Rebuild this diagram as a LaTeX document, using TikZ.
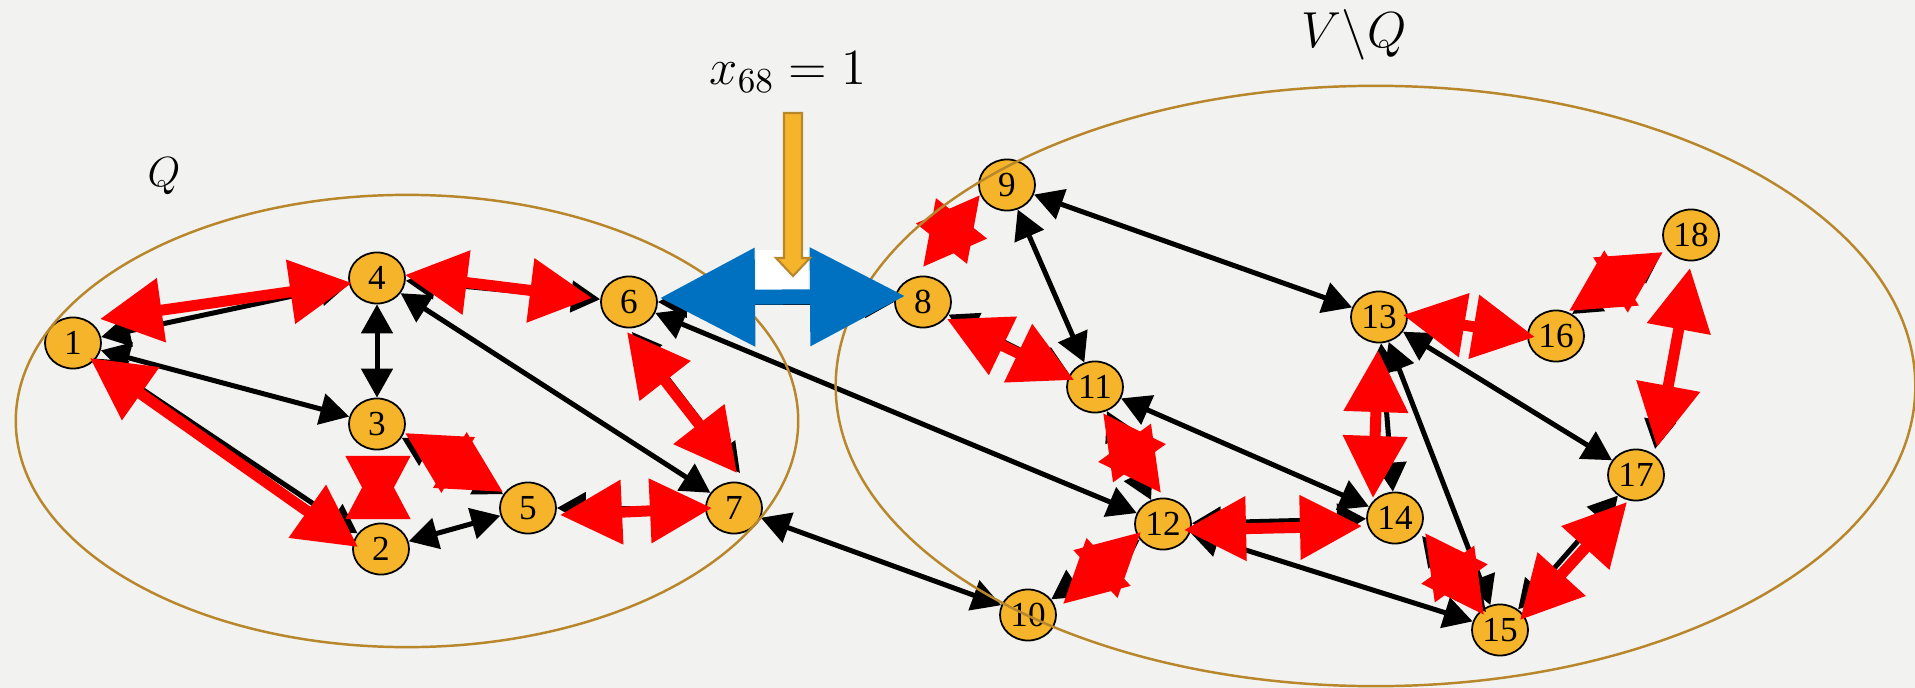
\documentclass[tikz,border=0pt]{standalone}
\usepackage{fontspec}
\setmainfont{Liberation Serif}
\usetikzlibrary{arrows.meta,shapes.geometric}
\definecolor{bgc}{HTML}{F2F2F0}
\definecolor{nodefill}{HTML}{F6B42A}
\definecolor{ringc}{HTML}{B8862B}
\definecolor{redc}{HTML}{FF0000}
\definecolor{bluec}{HTML}{0070C0}
\begin{document}
\begin{tikzpicture}[x=0.01cm,y=-0.01cm,
  vnode/.style={ellipse,draw=black,line width=0.5pt,fill=nodefill,minimum width=0.56cm,minimum height=0.51cm,inner sep=0pt,font=\fontsize{10}{12}\selectfont},
  blk/.style={draw=black,line width=0.05cm,{Triangle[length=0.29cm,width=0.31cm]}-{Triangle[length=0.29cm,width=0.31cm]}},
  redarr/.style={draw=redc,line width=0.11cm,{Triangle[length=0.62cm,width=0.62cm]}-{Triangle[length=0.62cm,width=0.62cm]}},
  bluearr/.style={draw=bluec,line width=0.15cm,{Triangle[length=0.95cm,width=0.95cm]}-{Triangle[length=0.95cm,width=0.95cm]}},
  ring/.style={draw=ringc,line width=0.7pt},
  pointer/.style={draw=ringc,fill=nodefill,line width=0.6pt,line join=miter},
  lbl/.style={inner sep=0pt,anchor=base}
]
\fill[bgc] (0,0) rectangle (1915,688);
\useasboundingbox (0,0) rectangle (1915,688);

% nodes
\node[vnode] (n1) at (73,343) {1};
\node[vnode] (n2) at (381,549) {2};
\node[vnode] (n3) at (377,424) {3};
\node[vnode] (n4) at (377,278) {4};
\node[vnode] (n5) at (528,508) {5};
\node[vnode] (n6) at (629,302) {6};
\node[vnode] (n7) at (734,508) {7};
\node[vnode] (n8) at (923,302) {8};
\node[vnode] (n9) at (1007,185) {9};
\node[vnode] (n10) at (1028,615) {10};
\node[vnode] (n11) at (1095,387) {11};
\node[vnode] (n12) at (1163,524) {12};
\node[vnode] (n13) at (1379,317) {13};
\node[vnode] (n14) at (1395,518) {14};
\node[vnode] (n15) at (1500,630) {15};
\node[vnode] (n16) at (1556,336) {16};
\node[vnode] (n17) at (1636,475) {17};
\node[vnode] (n18) at (1691,235) {18};

% black edges
\draw[blk] (n1) -- (n4);
\draw[blk] (n1) -- (n3);
\draw[blk] (n1) -- (n2);
\draw[blk] (n4) -- (n3);
\draw[blk] (n4) -- (n6);
\draw[blk] (n4) -- (n7);
\draw[blk] (n3) -- (n5);
\draw[blk] (n2) -- (n5);
\draw[blk] (n5) -- (n7);
\draw[blk] ([shift={(3,30)}]n6.center) -- ([shift={(6,-35)}]n7.center);
\draw[blk] (n6) -- (n8);
\draw[blk] (n6) -- (n12);
\draw[blk] (n7) -- (n10);
\draw[blk] (n8) -- (n11);
\draw[blk] (n9) -- (n11);
\draw[blk] (n9) -- (n13);
\draw[blk] (n11) -- (n12);
\draw[blk] (n11) -- (n14);
\draw[blk] (n10) -- (n12);
\draw[blk] (n12) -- (n14);
\draw[blk] (n12) -- (n15);
\draw[blk] (n13) -- (n14);
\draw[blk] (n13) -- (n15);
\draw[blk] (n13) -- (n17);
\draw[blk] ([shift={(27,18)}]n14.center) -- ([shift={(-14,-18)}]n15.center);
\draw[blk] ([shift={(16,-22)}]n16.center) -- ([shift={(-30,19)}]n18.center);
\draw[blk] ([shift={(-5,40)}]n18.center) -- ([shift={(19,-26)}]n17.center);
\draw[blk] (n15) -- (n17);

% red edges
\draw[redarr] ([shift={(27,-24)}]n1.center) -- ([shift={(-25,5)}]n4.center);
\draw[redarr] ([shift={(17,15)}]n1.center) -- ([shift={(-23,-2)}]n2.center);
\draw[redarr] ([shift={(1,33)}]n3.center) -- ([shift={(-3,-31)}]n2.center);
\draw[redarr] ([shift={(28,9)}]n3.center) -- ([shift={(-25,-16)}]n5.center);
\draw[redarr] ([shift={(28,-3)}]n4.center) -- ([shift={(-37,-4)}]n6.center);
\draw[redarr] ([shift={(32,7)}]n5.center) -- ([shift={(-22,0)}]n7.center);
\draw[redarr] ([shift={(-2,30)}]n6.center) -- ([shift={(3,-35)}]n7.center);
\draw[redarr] ([shift={(0,-35)}]n8.center) -- ([shift={(-27,10)}]n9.center);
\draw[redarr] ([shift={(24,17)}]n8.center) -- ([shift={(-21,-7)}]n11.center);
\draw[redarr] ([shift={(8,26)}]n11.center) -- ([shift={(-2,-31)}]n12.center);
\draw[redarr] ([shift={(35,-11)}]n10.center) -- ([shift={(-22,8)}]n12.center);
\draw[redarr] ([shift={(21,6)}]n12.center) -- ([shift={(-33,8)}]n14.center);
\draw[redarr] ([shift={(24,-2)}]n13.center) -- ([shift={(-21,1)}]n16.center);
\draw[redarr] ([shift={(-1,33)}]n13.center) -- ([shift={(-22,-20)}]n14.center);
\draw[redarr] ([shift={(30,15)}]n14.center) -- ([shift={(-16,-15)}]n15.center);
\draw[redarr] ([shift={(13,-25)}]n16.center) -- ([shift={(-28,17)}]n18.center);
\draw[redarr] ([shift={(-1,33)}]n18.center) -- ([shift={(21,-28)}]n17.center);
\draw[redarr] ([shift={(20,-10)}]n15.center) -- ([shift={(-9,27)}]n17.center);

% white patch between the blue heads, above the shaft
\fill[white] (756,250) rectangle (808,299);

% set rings
\draw[ring] (407,421) ellipse [x radius=3.91cm, y radius=2.26cm];
\draw[ring] (1375.5,386) ellipse [x radius=5.395cm, y radius=3.0cm];

% blue edge x_68
\draw[bluearr] ([shift={(31,-4)}]n6.center) -- ([shift={(-18,-6)}]n8.center);

% pointer
\draw[pointer] (784,113) -- (802,113) -- (802,258) -- (810,258) -- (793,276) -- (776,258) -- (784,258) -- cycle;

% labels
\node[lbl] (lq) at (164,186) {\large $Q$};
\node[lbl] (lvq) at (1354,48) {\Large $V\backslash Q$};
\node[lbl] (lx) at (788,85) {\Large $x_{68}=1$};
\end{tikzpicture}
\end{document}
